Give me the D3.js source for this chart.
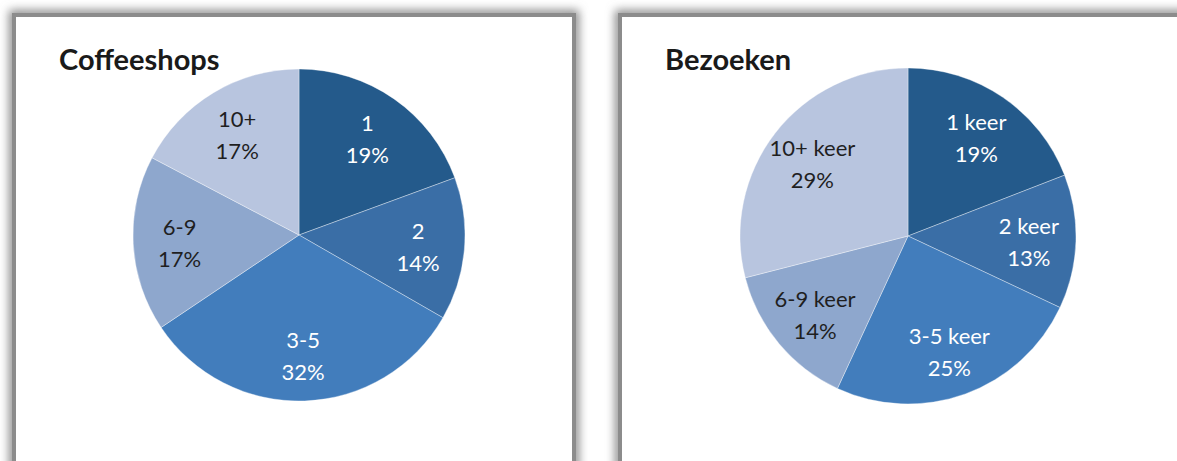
<!DOCTYPE html>
<head>
  <meta charset="utf-8">
  <script src="https://cdn.jsdelivr.net/npm/d3@7"></script>
  <style>
    body { margin: 0; background: #fff; }
    .title { font-family: 'Lato', sans-serif; font-weight: bold; font-size: 29px; fill: #1a1a1a; }
    .lbl { font-family: 'Lato', sans-serif; font-size: 22px; }
  </style>
</head>
<body>
<svg id="chart" width="1177" height="461"></svg>
<script>
  // data
  const shopCats = ["1", "2", "3-5", "6-9", "10+"];
  const shopVals = [19.4, 13.9, 32.3, 17.1, 17.3];
  const visitCats = ["1 keer", "2 keer", "3-5 keer", "6-9 keer", "10+ keer"];
  const visitVals = [19.1, 12.9, 24.9, 14.1, 29.0];
  const titles = ["Coffeeshops", "Bezoeken"];

  const colors = ["#245a8b", "#3a6ea6", "#427dbc", "#8ea7cd", "#b8c5df"];
  const textColors = ["#fff", "#fff", "#fff", "#1f1f1f", "#1f1f1f"];

  const svg = d3.select("#chart");

  const defs = svg.append("defs");
  defs.append("filter")
      .attr("id", "shadow")
      .attr("x", "-10%").attr("y", "-10%")
      .attr("width", "120%").attr("height", "120%")
    .append("feGaussianBlur")
      .attr("stdDeviation", 5);

  function panel(px, pw, title, cats, vals, cx, cy, r) {
    const g = svg.append("g");
    // soft shadow round the frame
    g.append("rect")
        .attr("x", px).attr("y", 15)
        .attr("width", pw).attr("height", 520)
        .attr("fill", "none")
        .attr("stroke", "#8a8a8a")
        .attr("stroke-width", 10)
        .attr("filter", "url(#shadow)");
    g.append("rect")
        .attr("x", px).attr("y", 15)
        .attr("width", pw).attr("height", 520)
        .attr("fill", "#fff")
        .attr("stroke", "#8c8c8c")
        .attr("stroke-width", 4);

    g.append("text")
        .attr("class", "title")
        .attr("x", px + 45)
        .attr("y", 70)
        .text(title);

    const color = d3.scaleOrdinal().domain(cats).range(colors);
    const tcolor = d3.scaleOrdinal().domain(cats).range(textColors);
    const total = d3.sum(vals);
    const data = cats.map((c, i) => ({ cat: c, val: vals[i] }));

    const pie = d3.pie().sort(null).value(d => d.val);
    const arc = d3.arc().innerRadius(0).outerRadius(r);
    const lblArc = d3.arc().innerRadius(r * 0.72).outerRadius(r * 0.72);

    const pg = g.append("g").attr("transform", `translate(${cx},${cy})`);
    const arcs = pie(data);

    pg.selectAll("path")
      .data(arcs)
      .join("path")
        .attr("d", arc)
        .attr("fill", d => color(d.data.cat))
        .attr("stroke", "#ffffff")
        .attr("stroke-opacity", 0.45)
        .attr("stroke-width", 0.8);

    const t = pg.selectAll("text")
      .data(arcs)
      .join("text")
        .attr("class", "lbl")
        .attr("text-anchor", "middle")
        .attr("fill", d => tcolor(d.data.cat))
        .attr("transform", d => {
          const p = lblArc.centroid(d);
          return `translate(${p[0]},${p[1]})`;
        });
    t.append("tspan")
        .attr("x", 0).attr("y", -6)
        .text(d => d.data.cat);
    t.append("tspan")
        .attr("x", 0).attr("y", 26)
        .text(d => Math.round(d.data.val / total * 100) + "%");
  }

  panel(14, 560, titles[0], shopCats, shopVals, 299, 235, 166);
  panel(620, 600, titles[1], visitCats, visitVals, 908, 236, 168);
</script>
</body>
